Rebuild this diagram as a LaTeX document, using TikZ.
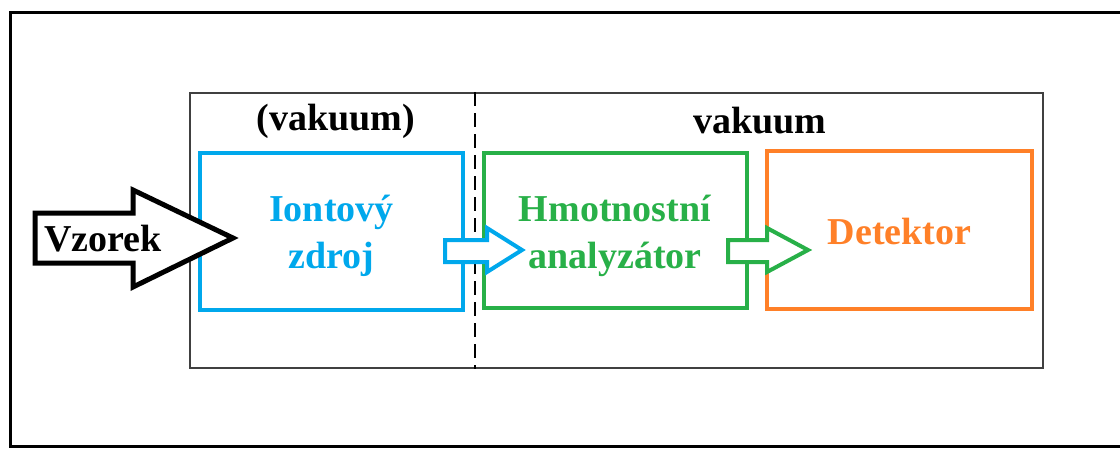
\documentclass[tikz,border=0pt]{standalone}
\usepackage{fontspec}
\setmainfont{Liberation Serif}
\definecolor{cblue}{RGB}{0,168,236}
\definecolor{cgreen}{RGB}{40,176,72}
\definecolor{corange}{RGB}{255,128,40}
\tikzset{
  unitbox/.style={draw, line width=4pt, fill=white, inner sep=0pt},
  unittext/.style={inner sep=0pt, align=center, font=\fontsize{38}{47}\selectfont\bfseries},
  blockarrow/.style={fill=white, line width=4pt, line join=miter},
  title/.style={font=\fontsize{38}{47}\selectfont\bfseries, text=black, inner sep=0pt}
}
\begin{document}
\begin{tikzpicture}[x=1pt,y=-1pt]
\useasboundingbox (0,0) rectangle (1120,448);
\begin{scope}
\clip (0,0) rectangle (1120,448);
\draw[line width=3pt] (10,12) rectangle (1130,446);
\end{scope}
% vacuum enclosure
\node[draw=black!75, line width=1.5pt, minimum width=853pt, minimum height=275pt, inner sep=0pt] (vac) at (616.5,230.5) {};
\draw[line width=1.2pt, dash pattern=on 14pt off 7pt] (vac.north west -| 475,0) coordinate (d1) -- (vac.south west -| 475,0);
\node[title] (t1) at (336,121) {(vakuum)};
\node[title] (t2) at (760,121) {vakuum};
% units
\node[unitbox, draw=cblue, minimum width=263pt, minimum height=157pt] (ion) at (331.5,231.5) {};
\node[unittext, text=cblue] (iont) at ([yshift=-4pt]ion.center) {Iontový\\zdroj};
\node[unitbox, draw=cgreen, minimum width=263pt, minimum height=155pt] (ana) at (615,230.5) {};
\node[unittext, text=cgreen] (anat) at ([yshift=-5pt]ana.center) {Hmotnostní\\analyzátor};
\node[unitbox, draw=corange, minimum width=265pt, minimum height=158pt] (det) at (899.5,229.5) {};
\node[unittext, text=corange] (dett) at ([yshift=-2pt]det.center) {Detektor};
% block arrows
\draw[blockarrow, line width=5pt, draw=black] (35,213) -- (133,213) -- (133,190) -- (233,238) -- (133,287) -- (133,263) -- (35,263) -- cycle;
\node[unittext] (vz) at (103,239) {Vzorek};
\draw[blockarrow, draw=cblue] (445,240) -- (487,240) -- (487,228) -- (522,250) -- (487,272) -- (487,262) -- (445,262) -- cycle;
\draw[blockarrow, draw=cgreen] (728,240) -- (767,240) -- (767,228) -- (808,250) -- (767,272) -- (767,262) -- (728,262) -- cycle;
\end{tikzpicture}
\end{document}
